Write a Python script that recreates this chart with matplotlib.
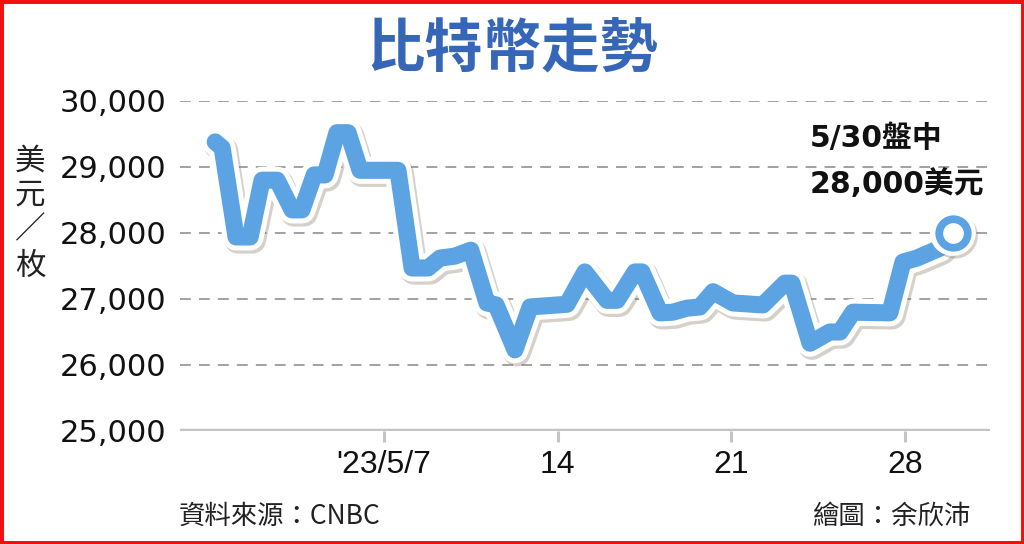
import matplotlib
matplotlib.use("Agg")
import matplotlib.pyplot as plt
import matplotlib.patheffects as pe
from matplotlib.patches import Rectangle

# ---- data (x = day of May 2023, 0 = Apr 30) ----
days = [0.19, 0.47, 1.03, 1.6, 2.08, 2.69, 3.29, 3.69, 4.18, 4.62, 5.1, 5.55,
        6.03, 7.56, 8.13, 8.77, 9.26, 9.86, 10.5, 11.15, 11.52, 12.28, 12.89,
        14.38, 15.1, 15.99, 16.4, 17.12, 17.4, 18.13, 18.65, 19.2, 19.74, 20.27,
        21.07, 22.28, 23.17, 23.45, 24.18, 24.98, 25.39, 25.91, 27.4, 27.93,
        28.49, 29.42, 29.94]
prices = [29380, 29290, 27940, 27940, 28800, 28800, 28350, 28350, 28880, 28880,
          29520, 29520, 28950, 28950, 27470, 27470, 27620, 27650, 27740, 26940,
          26910, 26230, 26880, 26920, 27410, 26980, 26980, 27410, 27410, 26790,
          26800, 26860, 26880, 27110, 26940, 26910, 27240, 27240, 26330, 26500,
          26500, 26800, 26790, 27560, 27620, 27770, 28000]
x_ticks = [7, 14, 21, 28]
x_labels = ["'23/5/7", "14", "21", "28"]
y_ticks = [25000, 26000, 27000, 28000, 29000, 30000]
y_labels = ["25,000", "26,000", "27,000", "28,000", "29,000", "30,000"]
title = "比特幣走勢"
y_title_chars = ["美", "元", "／", "枚"]
annot_lines = ["5/30盤中", "28,000美元"]
source = "資料來源：CNBC"
credit = "繪圖：余欣沛"

CJK = ["Noto Sans CJK TC", "Liberation Sans", "DejaVu Sans"]
LAT = ["Liberation Sans", "Noto Sans CJK TC", "DejaVu Sans"]
WIDE = ["DejaVu Sans", "Noto Sans CJK TC"]
BLUE = "#5ba3e2"
SHADOW = "#8c7b6a"

fig = plt.figure(figsize=(10.24, 5.44), dpi=100)
fig.patch.set_facecolor("white")
W, H = 1024, 544
ax = fig.add_axes([180 / W, 1 - 431 / H, (990 - 180) / W, (431 - 101) / H])
ax.set_xlim(-1.23, 31.44)
ax.set_ylim(25000, 30000)
for s in ax.spines.values():
    s.set_visible(False)
ax.set_facecolor("none")

# gridlines
for yv in y_ticks[1:]:
    ax.axhline(yv, color="#9a9a9a", lw=1.3, dashes=(6, 4.5), zorder=1)
ax.axhline(25000, color="#c4c4c4", lw=3.2, zorder=1, solid_capstyle="butt")

ax.set_yticks(y_ticks)
ax.set_yticklabels(y_labels, family=WIDE, fontsize=22, color="#111111")
ax.set_xticks(x_ticks)
ax.set_xticklabels(x_labels, family=LAT, fontsize=23, color="#111111")
ax.tick_params(axis="y", length=0, pad=10)
ax.tick_params(axis="x", length=8, width=2.2, color="#c4c4c4", pad=6, direction="out")

shadow = pe.SimpleLineShadow(offset=(1.5, -2.0), shadow_color=SHADOW, alpha=0.35, linewidth=20)
ax.plot(days, prices, color=BLUE, lw=12.3, solid_joinstyle="round", solid_capstyle="round",
        zorder=3, clip_on=False,
        path_effects=[shadow, pe.Stroke(linewidth=19.5, foreground="white"), pe.Normal()])

# end marker
ax.plot([days[-1]], [prices[-1]], marker="o", ms=33, mfc="white", mec="white", mew=0,
        zorder=4, clip_on=False,
        path_effects=[pe.SimplePatchShadow(offset=(1.5, -2.0), shadow_rgbFace=SHADOW, alpha=0.35),
                      pe.Normal()])
ax.plot([days[-1]], [prices[-1]], marker="o", ms=20.5, mfc="white", mec=BLUE, mew=5.6,
        zorder=5, clip_on=False)

fig.text(810 / W, 1 - 139 / H, annot_lines[0], family=WIDE, fontsize=21.5, fontweight="bold",
         color="#111111", ha="left", va="center")
fig.text(810 / W, 1 - 184 / H, annot_lines[1], family=WIDE, fontsize=21.5, fontweight="bold",
         color="#111111", ha="left", va="center")

fig.text(512 / W, 1 - 50 / H, title, family=CJK, fontsize=42, fontweight="bold",
         color="#3566b8", ha="center", va="center")

for ch, yy in zip(y_title_chars, [161, 195, 230, 266]):
    fig.text(30 / W, 1 - yy / H, ch, family=CJK, fontsize=22, color="#222222",
             ha="center", va="center")

fig.text(179 / W, 1 - 516 / H, source, family=CJK, fontsize=19, color="#222222",
         ha="left", va="center")
fig.text(970 / W, 1 - 516 / H, credit, family=CJK, fontsize=19, color="#222222",
         ha="right", va="center")

fig.patches.append(Rectangle((0, 0), 1, 1, transform=fig.transFigure, fill=False,
                             edgecolor="#f01010", lw=5, zorder=10))

fig.savefig("out.png", dpi=100, facecolor="white")
